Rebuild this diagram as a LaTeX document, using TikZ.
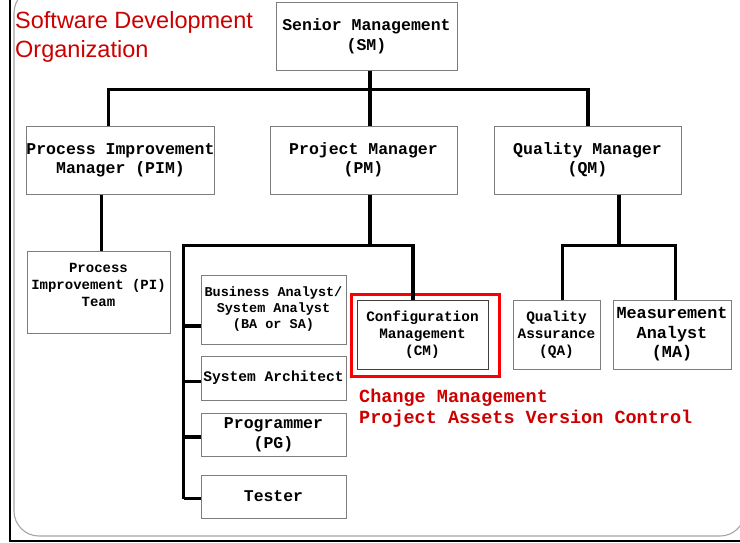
\documentclass[tikz,border=0pt]{standalone}
\usepackage{fontspec}
\setmainfont{Liberation Serif}
\setsansfont{Liberation Sans}
\setmonofont{Liberation Mono}
\definecolor{boxgray}{RGB}{125,125,125}
\definecolor{framegray}{RGB}{165,165,165}
\definecolor{darkred}{RGB}{204,0,0}
\definecolor{brightred}{RGB}{250,0,0}
\newcommand{\fs}[2]{\fontsize{#1}{#2}\selectfont}
\begin{document}
\begin{tikzpicture}[x=1pt,y=-1pt,
  box/.style={draw=boxgray, line width=1pt, fill=white, inner sep=0pt,
    align=center, font=\ttfamily\bfseries},
  link/.style={line width=3.6pt, line join=miter},
  note/.style={text=darkred, font=\ttfamily\bfseries\fs{18.5}{21}, align=left, inner sep=0pt}]
\useasboundingbox (0,0) rectangle (740,542);

% page frame
\begin{scope}
  \clip (0,0) rectangle (740,542);
  \draw[framegray, line width=1.1pt, rounded corners=25pt] (14,-12) rectangle (745,536);
\end{scope}
\draw[black, line width=2pt] (9.5,0) -- (9.5,540.5) -- (740,540.5);

% title
\node[text=darkred, font=\sffamily\fs{23.5}{29}, align=left, anchor=north west, inner sep=0pt]
  (title) at (15,11.5) {Software Development\\Organization};

% top level
\node[box, minimum width=181, minimum height=68, font=\ttfamily\bfseries\fs{16.5}{20}]
  (sm) at (366.5,36) {Senior Management\\(SM)};

% second level
\node[box, minimum width=187, minimum height=68, font=\ttfamily\bfseries\fs{16.5}{19}]
  (pim) at (120.5,160) {Process Improvement\\Manager (PIM)};
\node[box, minimum width=187, minimum height=68, font=\ttfamily\bfseries\fs{16.5}{19}]
  (pm) at (363.5,160) {Project Manager\\(PM)};
\node[box, minimum width=187, minimum height=68, font=\ttfamily\bfseries\fs{16.5}{19}]
  (qm) at (587.5,160) {Quality Manager\\(QM)};

% third level
\node[box, minimum width=143, minimum height=82, font=\ttfamily\bfseries\fs{14}{17}]
  (pi) at (98.5,292) {Process\\Improvement (PI)\\Team\\[-3pt]};

\node[box, minimum width=145, minimum height=69, font=\ttfamily\bfseries\fs{13.5}{16}]
  (ba) at (273.5,309.5) {Business Analyst/\\System Analyst\\(BA or SA)};
\node[box, minimum width=145, minimum height=44, font=\ttfamily\bfseries\fs{14.6}{17}]
  (sa) at (273.5,378) {System Architect};
\node[box, minimum width=145, minimum height=43, font=\ttfamily\bfseries\fs{16.5}{20}]
  (pg) at (273.5,434.5) {Programmer\\(PG)};
\node[box, minimum width=145, minimum height=43, font=\ttfamily\bfseries\fs{16.4}{20}]
  (te) at (273.5,496.5) {Tester};

\node[draw=brightred, line width=3pt, minimum width=148, minimum height=82, inner sep=0pt]
  (hl) at (425,335) {};
\node[box, draw=black!75, minimum width=131, minimum height=69, font=\ttfamily\bfseries\fs{14.4}{17}]
  (cm) at (422.5,334.5) {Configuration\\Management\\(CM)};

\node[box, minimum width=87, minimum height=69, font=\ttfamily\bfseries\fs{14.4}{17}]
  (qa) at (556.5,334.5) {Quality\\Assurance\\(QA)};
\node[box, minimum width=118, minimum height=69, font=\ttfamily\bfseries\fs{16.8}{19.5}]
  (ma) at (672,334.5) {Measurement\\Analyst\\(MA)};

\node[note, anchor=west] (cmnote) at (359,408) {Change Management\\Project Assets Version Control};

% connector junctions
\coordinate (busL) at (108.5,89.5);
\coordinate (busM) at (370,89.5);
\coordinate (busR) at (588,89.5);
\coordinate (piX) at (101.5,0);
\coordinate (pmJ) at (370,245.5);
\coordinate (devL) at (183.5,245.5);
\coordinate (devR) at (413,245.5);
\coordinate (devB) at (183.5,498.5);
\coordinate (baJ) at (183.5,326);
\coordinate (saJ) at (183.5,381.5);
\coordinate (pgJ) at (183.5,437);
\coordinate (qmJ) at (619,245.5);
\coordinate (qaJ) at (562.5,245.5);
\coordinate (maJ) at (675.5,245.5);

% connectors
\draw[link] (sm.south -| busM) -- (pm.north -| busM);
\draw[link] (pim.north -| busL) -- (busL) -- (busR) -- (qm.north -| busR);
\draw[link] (pim.south -| piX) -- (pi.north -| piX);
\draw[link] (pm.south -| pmJ) -- (pmJ);
\draw[link] (devB) -- (devL) -- (devR) -- (cm.north -| devR);
\draw[link] (baJ) -- (ba.west |- baJ);
\draw[link] (saJ) -- (sa.west |- saJ);
\draw[link] (pgJ) -- (pg.west |- pgJ);
\draw[link] (devB) -- (te.west |- devB);
\draw[link] (qm.south -| qmJ) -- (qmJ);
\draw[link] (qa.north -| qaJ) -- (qaJ) -- (maJ) -- (ma.north -| maJ);
\end{tikzpicture}
\end{document}
